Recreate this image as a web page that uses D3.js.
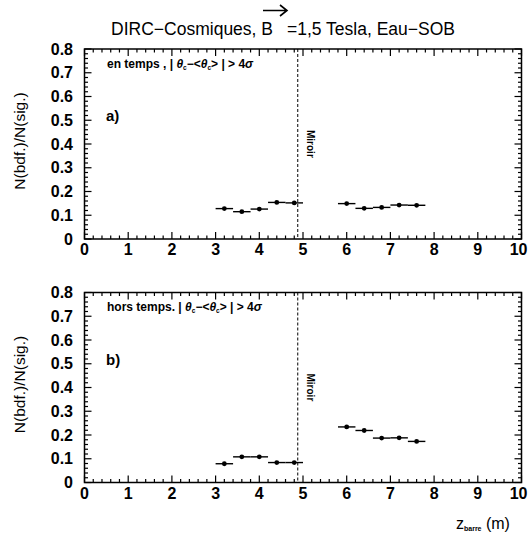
<!DOCTYPE html>
<html><head><meta charset="utf-8">
<script src="https://cdn.jsdelivr.net/npm/d3@7"></script>
<style>body{margin:0;background:#fff}svg{display:block}text{font-family:"Liberation Sans",Arial,sans-serif;fill:#000}</style>
</head><body>
<script>
// Data
const zPos = [3.2, 3.6, 4.0, 4.4, 4.8, 6.0, 6.4, 6.8, 7.2, 7.6];
const zErr = [0.2, 0.2, 0.2, 0.2, 0.2, 0.2, 0.2, 0.2, 0.2, 0.2];
const ratioEnTemps = [0.128, 0.115, 0.126, 0.154, 0.152, 0.149, 0.129, 0.133, 0.143, 0.142];
const ratioHorsTemps = [0.079, 0.108, 0.108, 0.084, 0.084, 0.234, 0.219, 0.187, 0.188, 0.173];
const xTicks = [0,1,2,3,4,5,6,7,8,9,10];
const yTicks = [0,0.1,0.2,0.3,0.4,0.5,0.6,0.7,0.8];
const mirrorZ = 4.88;
const panels = [
  {label:"a)", text:"en temps ,", values: ratioEnTemps, top:49, bottom:239},
  {label:"b)", text:"hors temps.", values: ratioHorsTemps, top:292.5, bottom:482.5}
];

const W=528,H=533;
const svg=d3.select("body").append("svg").attr("width",W).attr("height",H);
const x=d3.scaleLinear().domain([0,10]).range([84.5,521.5]);

// Title
const title=svg.append("g");
title.append("text").attr("x",273).attr("y",35).attr("text-anchor","end").attr("font-size",17.5).text("DIRC\u2212Cosmiques, B");
title.append("text").attr("x",287).attr("y",35).attr("font-size",17.5).text("=1,5 Tesla, Eau\u2212SOB");
title.append("path").attr("d","M263,10.5 L286,10.5 M280,5 L287,10.5 L280,16").attr("stroke","#000").attr("stroke-width",1.6).attr("fill","none");

panels.forEach(p=>{
  const y=d3.scaleLinear().domain([0,0.8]).range([p.bottom,p.top]);
  const g=svg.append("g");
  const xMinor=d3.range(0,10.001,0.2);
  const yMinor=d3.range(0,0.8001,0.02);
  const isMajX=v=>Math.abs(v-Math.round(v))<1e-6;
  const isMajY=v=>Math.abs(v*10-Math.round(v*10))<1e-6;
  xMinor.forEach(v=>{
    const L=isMajX(v)?7:3.5;
    g.append("line").attr("x1",x(v)).attr("x2",x(v)).attr("y1",p.bottom).attr("y2",p.bottom-L).attr("stroke","#000").attr("stroke-width",1.2);
    g.append("line").attr("x1",x(v)).attr("x2",x(v)).attr("y1",p.top).attr("y2",p.top+L).attr("stroke","#000").attr("stroke-width",1.2);
  });
  yMinor.forEach(v=>{
    const L=isMajY(v)?7:3.5;
    g.append("line").attr("y1",y(v)).attr("y2",y(v)).attr("x1",x(0)).attr("x2",x(0)+L).attr("stroke","#000").attr("stroke-width",1.2);
    g.append("line").attr("y1",y(v)).attr("y2",y(v)).attr("x1",x(10)).attr("x2",x(10)-L).attr("stroke","#000").attr("stroke-width",1.2);
  });
  g.append("rect").attr("x",x(0)).attr("y",p.top).attr("width",x(10)-x(0)).attr("height",p.bottom-p.top).attr("fill","none").attr("stroke","#000").attr("stroke-width",1.5);
  // tick labels
  xTicks.forEach(v=>{
    const last=v===10;
    g.append("text").attr("x",last?527.5:x(v)).attr("y",p.bottom+16).attr("text-anchor",last?"end":"middle").attr("font-size",16).attr("font-weight","bold").text(v);
  });
  yTicks.forEach(v=>{
    g.append("text").attr("x",73).attr("y",y(v)+5.5).attr("text-anchor","end").attr("font-size",16).attr("font-weight","bold").text(v===0?"0":d3.format(".1f")(v));
  });
  g.append("text").attr("transform",`translate(25,${(p.top+p.bottom)/2-3}) rotate(-90)`).attr("text-anchor","middle").attr("font-size",15.5).text("N(bdf.)/N(sig.)");
  g.append("line").attr("x1",x(mirrorZ)).attr("x2",x(mirrorZ)).attr("y1",p.top).attr("y2",p.bottom).attr("stroke","#000").attr("stroke-width",1).attr("stroke-dasharray","3,2");
  g.append("text").attr("transform",`translate(${x(mirrorZ)+9.5},${p.top+81}) rotate(90)`).attr("font-size",10).attr("font-weight","bold").text("Miroir");
  const t=g.append("text").attr("x",107).attr("y",p.top+18.5).attr("font-size",12).attr("font-weight","bold");
  t.append("tspan").text(p.text+" | ");
  t.append("tspan").attr("font-style","italic").text("\u03b8");
  t.append("tspan").attr("font-size",6.5).attr("dy",2).text("c");
  t.append("tspan").attr("dy",-2).text("\u2212<");
  t.append("tspan").attr("font-style","italic").text("\u03b8");
  t.append("tspan").attr("font-size",6.5).attr("dy",2).text("c");
  t.append("tspan").attr("dy",-2).text("> | > 4");
  t.append("tspan").attr("font-style","italic").text("\u03c3");
  g.append("text").attr("x",106).attr("y",p.top+72).attr("font-size",15).attr("font-weight","bold").text(p.label);
  p.values.forEach((v,i)=>{
    g.append("line").attr("x1",x(zPos[i]-zErr[i])).attr("x2",x(zPos[i]+zErr[i])).attr("y1",y(v)).attr("y2",y(v)).attr("stroke","#000").attr("stroke-width",1.4);
    g.append("circle").attr("cx",x(zPos[i])).attr("cy",y(v)).attr("r",2.4).attr("fill","#000");
  });
});
const xt=svg.append("text").attr("x",456).attr("y",529).attr("font-size",16);
xt.append("tspan").text("z");
xt.append("tspan").attr("font-size",7).attr("font-weight","bold").attr("dy",2).text("barre");
xt.append("tspan").attr("dy",-2).text(" (m)");
</script>
</body></html>
